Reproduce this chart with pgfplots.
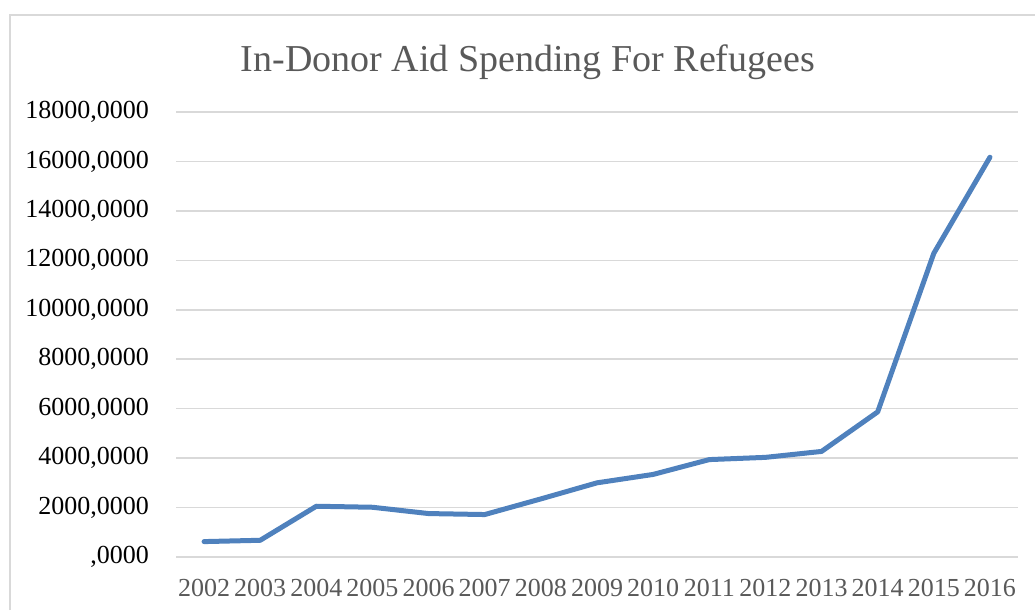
\documentclass[border=0pt]{standalone}
\usepackage{pgfplots}
\pgfplotsset{compat=1.18}
\usepackage{fontspec}
\setmainfont{Liberation Serif}
\definecolor{serie}{HTML}{4F81BD}
\definecolor{gridc}{HTML}{D9D9D9}
\definecolor{txt}{HTML}{595959}
\begin{document}
\begin{tikzpicture}[x=1pt,y=1pt]
\useasboundingbox (0,0) rectangle (1035,610);
\draw[gridc, line width=1.5pt] (10,0) -- (10,595) -- (1035,595);
\node[anchor=base, text=txt, font=\fontsize{38}{38}\selectfont] at (528,538) {In-Donor Aid Spending For Refugees};
\begin{axis}[
  at={(176pt,53pt)}, anchor=south west,
  width=842pt, height=445pt, scale only axis,
  xmin=2001.5, xmax=2016.5, ymin=0, ymax=18000,
  scaled y ticks=false, scaled x ticks=false,
  axis x line*=bottom, axis y line*=left,
  axis line style={draw=none},
  major tick length=0pt,
  ymajorgrids, grid style={gridc, line width=1.5pt},
  xtick={2002,2003,2004,2005,2006,2007,2008,2009,2010,2011,2012,2013,2014,2015,2016},
  xticklabels={2002,2003,2004,2005,2006,2007,2008,2009,2010,2011,2012,2013,2014,2015,2016},
  ytick={0,2000,4000,6000,8000,10000,12000,14000,16000,18000},
  yticklabels={{,0000},{2000,0000},{4000,0000},{6000,0000},{8000,0000},{10000,0000},{12000,0000},{14000,0000},{16000,0000},{18000,0000}},
  yticklabel style={font=\fontsize{26}{26}\selectfont, text=black, anchor=east, inner sep=0pt, xshift=-27pt},
  xticklabel style={font=\fontsize{26}{26}\selectfont, text=txt, anchor=north, inner sep=0pt, yshift=-22pt},
  clip=false,
]
\addplot[serie, line width=5pt, line join=round, line cap=round] coordinates {
(2002,623) (2003,676) (2004,2053) (2005,2012) (2006,1757) (2007,1717)
(2008,2350) (2009,3000) (2010,3340) (2011,3940) (2012,4030) (2013,4270)
(2014,5870) (2015,12283) (2016,16170)
};
\end{axis}
\end{tikzpicture}
\end{document}
